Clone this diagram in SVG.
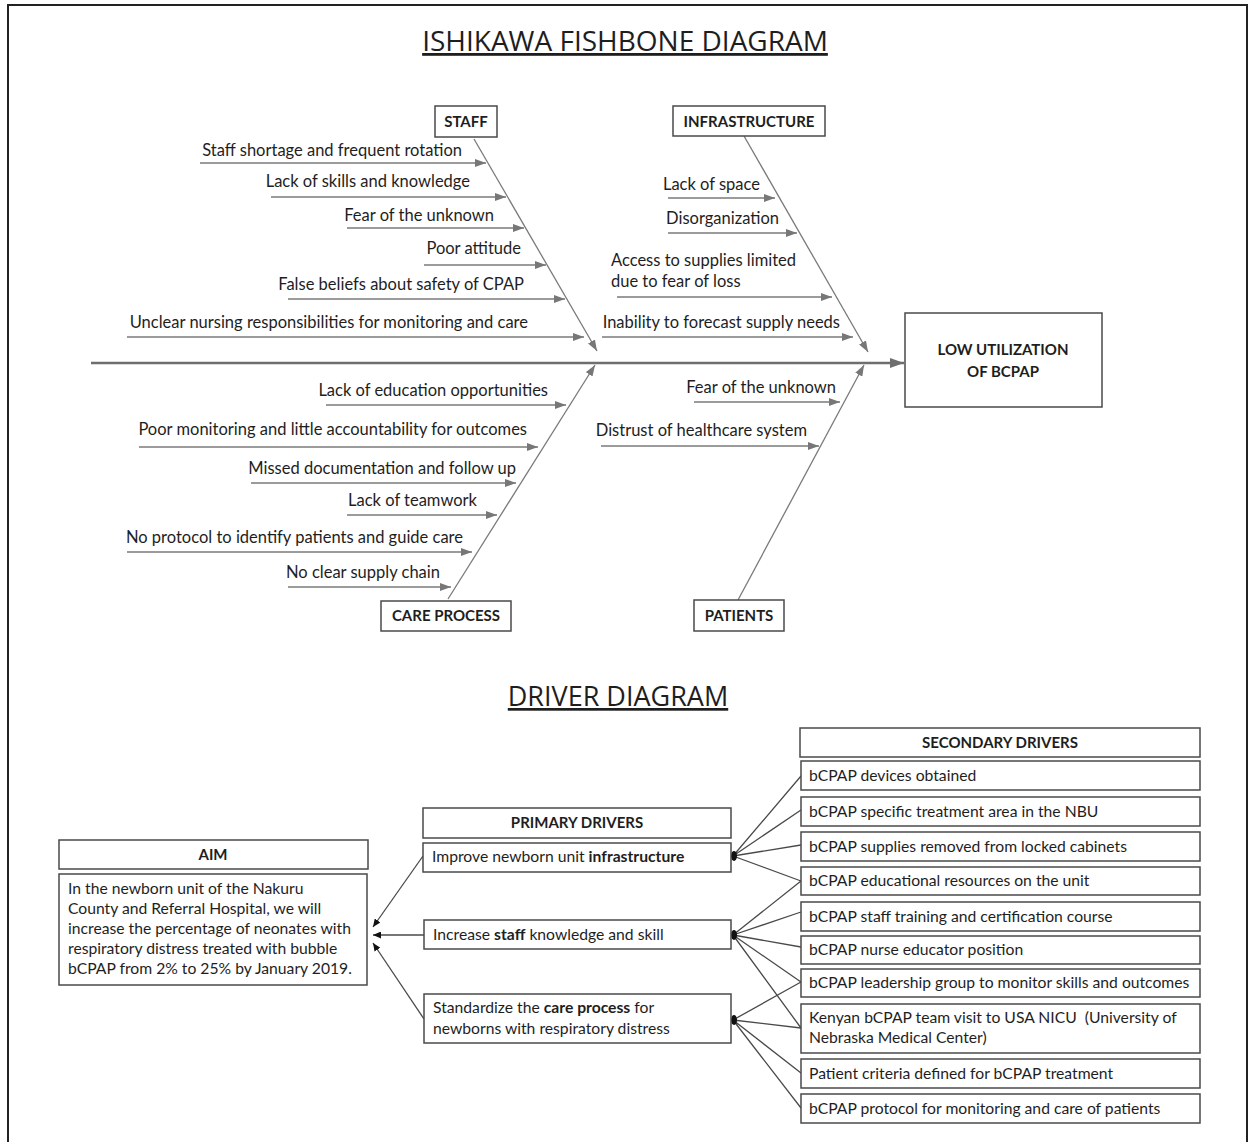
<svg xmlns="http://www.w3.org/2000/svg" width="1249" height="1142" viewBox="0 0 1249 1142">
<style>
.t{font-family:Lato,"Open Sans","Liberation Sans",sans-serif;font-size:15.7px;fill:#1e1e1e}
.f{font-size:16.5px}
.h{font-weight:bold;font-size:15px}
.hi{font-weight:bold}
.m{text-anchor:middle}
.e{text-anchor:end}
.title{font-family:"Open Sans",Lato,"Liberation Sans",sans-serif;fill:#1e1e1e;text-anchor:middle;text-decoration:underline}
.box{fill:#fff;stroke:#4a4a4a;stroke-width:1.5}
.bone{stroke:#7a7a7a;stroke-width:1.3;fill:none}
.spine{stroke:#6e6e6e;stroke-width:2.6;fill:none}
.dl{stroke:#4a4a4a;stroke-width:1.3;fill:none}
</style>
<defs>
<marker id="ah" markerUnits="userSpaceOnUse" markerWidth="11" markerHeight="8" refX="11" refY="4" orient="auto"><path d="M0,0 L11,4 L0,8 z" fill="#777"/></marker>
<marker id="ahs" markerUnits="userSpaceOnUse" markerWidth="14" markerHeight="10" refX="14" refY="5" orient="auto"><path d="M0,0 L14,5 L0,10 z" fill="#6e6e6e"/></marker>
<marker id="ak" markerUnits="userSpaceOnUse" markerWidth="8" markerHeight="7" refX="8" refY="3.5" orient="auto"><path d="M0,0 L8,3.5 L0,7 z" fill="#111"/></marker>
</defs>
<rect width="1249" height="1142" fill="#fff"/>
<path d="M8,1142 V5 H1247 V1142" fill="none" stroke="#222" stroke-width="2"/>

<text class="title" x="625" y="51" font-size="28">ISHIKAWA FISHBONE DIAGRAM</text>
<text class="title" x="618" y="706" font-size="27">DRIVER DIAGRAM</text>

<g id="connectors">
<path class="spine" d="M91,363 L904,363" marker-end="url(#ahs)"/>
<path class="bone" d="M474,139 L597,351" marker-end="url(#ah)"/>
<path class="bone" d="M744,136 L868,352" marker-end="url(#ah)"/>
<path class="bone" d="M448,599 L595,365" marker-end="url(#ah)"/>
<path class="bone" d="M738,600 L864,365" marker-end="url(#ah)"/>
<path class="bone" d="M200,163 H486" marker-end="url(#ah)"/>
<path class="bone" d="M271,197 H506" marker-end="url(#ah)"/>
<path class="bone" d="M347,228 H524" marker-end="url(#ah)"/>
<path class="bone" d="M424,265 H546" marker-end="url(#ah)"/>
<path class="bone" d="M288,299 H565" marker-end="url(#ah)"/>
<path class="bone" d="M127,337 H584" marker-end="url(#ah)"/>
<path class="bone" d="M668,198 H775" marker-end="url(#ah)"/>
<path class="bone" d="M668,233 H797" marker-end="url(#ah)"/>
<path class="bone" d="M617,297 H832" marker-end="url(#ah)"/>
<path class="bone" d="M602,337 H853" marker-end="url(#ah)"/>
<path class="bone" d="M326,405 H566" marker-end="url(#ah)"/>
<path class="bone" d="M139,447 H538" marker-end="url(#ah)"/>
<path class="bone" d="M251,483 H516" marker-end="url(#ah)"/>
<path class="bone" d="M347,515 H497" marker-end="url(#ah)"/>
<path class="bone" d="M127,552 H472" marker-end="url(#ah)"/>
<path class="bone" d="M288,587 H451" marker-end="url(#ah)"/>
<path class="bone" d="M694,402 H840" marker-end="url(#ah)"/>
<path class="bone" d="M601,446 H819" marker-end="url(#ah)"/>

<path class="dl" d="M423,856 L373,927" marker-end="url(#ak)"/>
<path class="dl" d="M424,935 L373,935" marker-end="url(#ak)"/>
<path class="dl" d="M424,1019 L373,943" marker-end="url(#ak)"/>

<path class="dl" d="M733,856 L801,776 M733,856 L801,810 M733,856 L801,845 M733,856 L801,881"/>
<path class="dl" d="M733,935 L801,881 M733,935 L801,912 M733,935 L801,947 M733,935 L801,982 M733,935 L801,1028"/>
<path class="dl" d="M733,1020 L801,982 M733,1020 L801,1028 M733,1020 L801,1073 M733,1020 L801,1108"/>
<ellipse cx="734" cy="856" rx="3" ry="5" fill="#111"/>
<ellipse cx="734" cy="935" rx="3" ry="5" fill="#111"/>
<ellipse cx="734" cy="1020" rx="3" ry="5" fill="#111"/>
</g>

<g id="staff">
<rect class="box" x="435" y="106" width="62" height="31"/>
<text class="t h m" x="466" y="127">STAFF</text>
<text class="t f e" x="462" y="156">Staff shortage and frequent rotation</text>
<text class="t f e" x="470" y="187">Lack of skills and knowledge</text>
<text class="t f e" x="494" y="221">Fear of the unknown</text>
<text class="t f e" x="521" y="254">Poor attitude</text>
<text class="t f e" x="524" y="290">False beliefs about safety of CPAP</text>
<text class="t f e" x="528" y="328">Unclear nursing responsibilities for monitoring and care</text>
</g>

<g id="infrastructure">
<rect class="box" x="673" y="106" width="152" height="30"/>
<text class="t h m" x="749" y="127">INFRASTRUCTURE</text>
<text class="t f e" x="760" y="190">Lack of space</text>
<text class="t f e" x="779" y="224">Disorganization</text>
<text class="t f" x="611" y="266">Access to supplies limited</text>
<text class="t f" x="611" y="287">due to fear of loss</text>
<text class="t f e" x="840" y="328">Inability to forecast supply needs</text>
</g>

<g id="care-process">
<rect class="box" x="381" y="601" width="130" height="30"/>
<text class="t h m" x="446" y="621">CARE PROCESS</text>
<text class="t f e" x="548" y="396">Lack of education opportunities</text>
<text class="t f e" x="527" y="435">Poor monitoring and little accountability for outcomes</text>
<text class="t f e" x="516" y="474">Missed documentation and follow up</text>
<text class="t f e" x="477" y="506">Lack of teamwork</text>
<text class="t f e" x="463" y="543">No protocol to identify patients and guide care</text>
<text class="t f e" x="440" y="578">No clear supply chain</text>
</g>

<g id="patients">
<rect class="box" x="694" y="600" width="90" height="31"/>
<text class="t h m" x="739" y="621">PATIENTS</text>
<text class="t f e" x="836" y="393">Fear of the unknown</text>
<text class="t f e" x="807" y="436">Distrust of healthcare system</text>
</g>

<g id="effect">
<rect class="box" x="905" y="313" width="197" height="94"/>
<text class="t h m" x="1003" y="355">LOW UTILIZATION</text>
<text class="t h m" x="1003" y="377">OF BCPAP</text>
</g>

<g id="aim">
<rect class="box" x="59" y="840" width="309" height="29"/>
<text class="t h m" x="213" y="860">AIM</text>
<rect class="box" x="59" y="874" width="308" height="111"/>
<text class="t" x="68" y="894">In the newborn unit of the Nakuru</text>
<text class="t" x="68" y="914">County and Referral Hospital, we will</text>
<text class="t" x="68" y="934">increase the percentage of neonates with</text>
<text class="t" x="68" y="954">respiratory distress treated with bubble</text>
<text class="t" x="68" y="974">bCPAP from 2% to 25% by January 2019.</text>
</g>

<g id="primary-drivers">
<rect class="box" x="423" y="808" width="308" height="30"/>
<text class="t h m" x="577" y="828">PRIMARY DRIVERS</text>
<rect class="box" x="423" y="843" width="308" height="29"/>
<text class="t" x="432" y="862">Improve newborn unit <tspan class="hi">infrastructure</tspan></text>
<rect class="box" x="424" y="920" width="307" height="29"/>
<text class="t" x="433" y="940">Increase <tspan class="hi">staff</tspan> knowledge and skill</text>
<rect class="box" x="424" y="994" width="307" height="49"/>
<text class="t" x="433" y="1013">Standardize the <tspan class="hi">care process</tspan> for</text>
<text class="t" x="433" y="1034">newborns with respiratory distress</text>
</g>

<g id="secondary-drivers">
<rect class="box" x="800" y="728" width="400" height="29"/>
<text class="t h m" x="1000" y="748">SECONDARY DRIVERS</text>
<rect class="box" x="801" y="761" width="399" height="29"/>
<text class="t" x="809" y="781">bCPAP devices obtained</text>
<rect class="box" x="801" y="797" width="399" height="29"/>
<text class="t" x="809" y="817">bCPAP specific treatment area in the NBU</text>
<rect class="box" x="801" y="832" width="399" height="29"/>
<text class="t" x="809" y="852">bCPAP supplies removed from locked cabinets</text>
<rect class="box" x="801" y="867" width="399" height="28"/>
<text class="t" x="809" y="886">bCPAP educational resources on the unit</text>
<rect class="box" x="801" y="902" width="399" height="29"/>
<text class="t" x="809" y="922">bCPAP staff training and certification course</text>
<rect class="box" x="801" y="936" width="399" height="28"/>
<text class="t" x="809" y="955">bCPAP nurse educator position</text>
<rect class="box" x="801" y="969" width="399" height="28"/>
<text class="t" x="809" y="988">bCPAP leadership group to monitor skills and outcomes</text>
<rect class="box" x="801" y="1004" width="399" height="49"/>
<text class="t" x="809" y="1023" xml:space="preserve">Kenyan bCPAP team visit to USA NICU  (University of</text>
<text class="t" x="809" y="1043">Nebraska Medical Center)</text>
<rect class="box" x="801" y="1059" width="399" height="29"/>
<text class="t" x="809" y="1079">Patient criteria defined for bCPAP treatment</text>
<rect class="box" x="801" y="1094" width="399" height="29"/>
<text class="t" x="809" y="1114">bCPAP protocol for monitoring and care of patients</text>
</g>
</svg>
